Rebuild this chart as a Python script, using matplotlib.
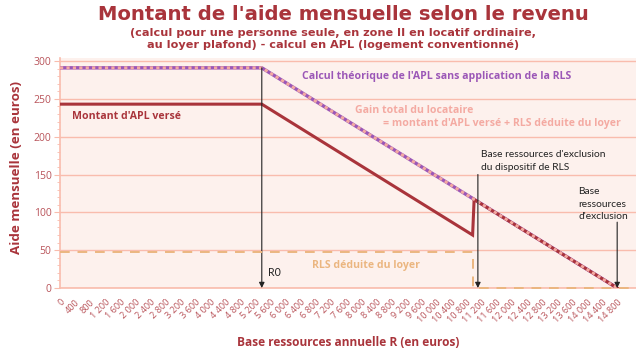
import matplotlib
matplotlib.use("Agg")
import matplotlib.pyplot as plt
import numpy as np

# Data
r0 = 5360            # end of the plateau
r_rls_end = 10960    # last income with RLS
r_rls_excl = 11100   # RLS exclusion base
r_excl = 14800       # APL exclusion base

theo_x = [0, r0, r_excl]
theo_y = [291, 291, 0]

apl_x = [0, r0, r_rls_end, 11000, r_excl]
apl_y = [243, 243, 70, 117, 0]

rls_x = [0, r_rls_end, r_rls_end, 15300]
rls_y = [48, 48, 0, 0]

xticks = np.arange(0, 14801, 400)
xticklabels = ["{:,}".format(v).replace(",", " ") for v in xticks]
yticks = [0, 50, 100, 150, 200, 250, 300]

# Colours
dark_red = "#a9343b"
tick_red = "#b9545a"
purple = "#9b57b7"
pink = "#f4aaa2"
tan = "#ebb680"
grid_col = "#f9bcad"
bg = "#fdf1ed"
black = "#222222"

plt.rcParams["font.family"] = ["Open Sans", "DejaVu Sans"]
cond = ["Lato", "DejaVu Sans"]
wide = ["DejaVu Sans"]

fig = plt.figure(figsize=(6.36, 3.58), dpi=100)
ax = fig.add_axes([60 / 636, 1 - 288 / 358, 1 - 60 / 636, (288 - 58) / 358])
ax.set_facecolor(bg)

ax.set_xlim(0, 15300)
ax.set_ylim(0, 304)

# grid
for v in yticks:
    ax.axhline(v, color=grid_col, lw=1.0, zorder=1)

# lines
ax.plot(theo_x, theo_y, color=purple, lw=2.5, zorder=3, solid_capstyle="butt")
ax.plot(apl_x, apl_y, color=dark_red, lw=2.2, zorder=4, solid_joinstyle="miter")
ax.plot(theo_x, theo_y, color=pink, lw=2.1, ls=(0, (1.1, 1.1)), zorder=5)
ax.plot(rls_x, rls_y, color=tan, lw=1.4, ls=(0, (5, 4)), zorder=7, clip_on=False)

# arrows
arrow_kw = dict(arrowstyle="-|>", color=black, lw=0.8, mutation_scale=8, shrinkA=0, shrinkB=0)
ax.annotate("", xy=(r0, 0), xytext=(r0, 291), arrowprops=arrow_kw, zorder=6)
ax.annotate("", xy=(r_rls_excl, 0), xytext=(r_rls_excl, 150), arrowprops=arrow_kw, zorder=6)
ax.annotate("", xy=(r_excl, 0), xytext=(r_excl, 87), arrowprops=arrow_kw, zorder=6)

# annotations
ax.text(6430, 279, "Calcul théorique de l'APL sans application de la RLS",
        color=purple, fontsize=7.6, fontweight="bold", va="center")
ax.text(320, 227, "Montant d'APL versé", color=dark_red, fontsize=7.6,
        fontweight="bold", va="center")
ax.text(7840, 235, "Gain total du locataire", color=pink, fontsize=7.6,
        fontweight="bold", va="center")
ax.text(8580, 218, "= montant d'APL versé + RLS déduite du loyer", color=pink,
        fontsize=7.6, fontweight="bold", va="center")
ax.text(11180, 176, "Base ressources d'exclusion", color=black, fontsize=7.4,
        va="center", family=cond)
ax.text(11180, 159, "du dispositif de RLS", color=black, fontsize=7.4,
        va="center", family=cond)
ax.text(13760, 127, "Base", color=black, fontsize=7.4, va="center", family=cond)
ax.text(13760, 110, "ressources", color=black, fontsize=7.4, va="center", family=cond)
ax.text(13760, 94, "d'exclusion", color=black, fontsize=7.4, va="center", family=cond)
ax.text(5520, 20, "R0", color=black, fontsize=7.6, va="center", family=cond)
ax.text(6690, 30, "RLS déduite du loyer", color=tan, fontsize=7.6,
        fontweight="bold", va="center")

# axes styling
for s in ["top", "right"]:
    ax.spines[s].set_visible(False)
for s in ["left", "bottom"]:
    ax.spines[s].set_color(grid_col)
    ax.spines[s].set_linewidth(1.2)

ax.set_yticks(yticks)
ax.set_yticks(np.arange(0, 301, 10), minor=True)
ax.tick_params(axis="y", which="major", length=4, color=grid_col, labelcolor=tick_red,
               labelsize=7.5, pad=2)
ax.tick_params(axis="y", which="minor", length=2, color=grid_col)
ax.set_xticks(xticks)
ax.set_xticklabels(xticklabels, rotation=45, ha="right", rotation_mode="anchor")
ax.tick_params(axis="x", length=0, labelcolor=tick_red, labelsize=6.6, pad=7)

fig.text(17 / 636, 1 - 168 / 358, "Aide mensuelle (en euros)", color=dark_red,
         fontsize=9.6, fontweight="bold", rotation=90, ha="center", va="center")
fig.text(348 / 636, 1 - 343 / 358, "Base ressources annuelle R (en euros)",
         color=dark_red, fontsize=8.6, fontweight="bold", ha="center", va="center")

# titles
fig.text(343 / 636, 1 - 14 / 358, "Montant de l'aide mensuelle selon le revenu",
         color=dark_red, fontsize=14.1, fontweight="bold", ha="center", va="center",
         family=wide)
fig.text(333 / 636, 1 - 33 / 358,
         "(calcul pour une personne seule, en zone II en locatif ordinaire,",
         color=dark_red, fontsize=8.1, fontweight="bold", ha="center", va="center",
         family=wide)
fig.text(333 / 636, 1 - 45 / 358,
         "au loyer plafond) - calcul en APL (logement conventionné)",
         color=dark_red, fontsize=8.1, fontweight="bold", ha="center", va="center",
         family=wide)

fig.savefig("out.png", dpi=100)
